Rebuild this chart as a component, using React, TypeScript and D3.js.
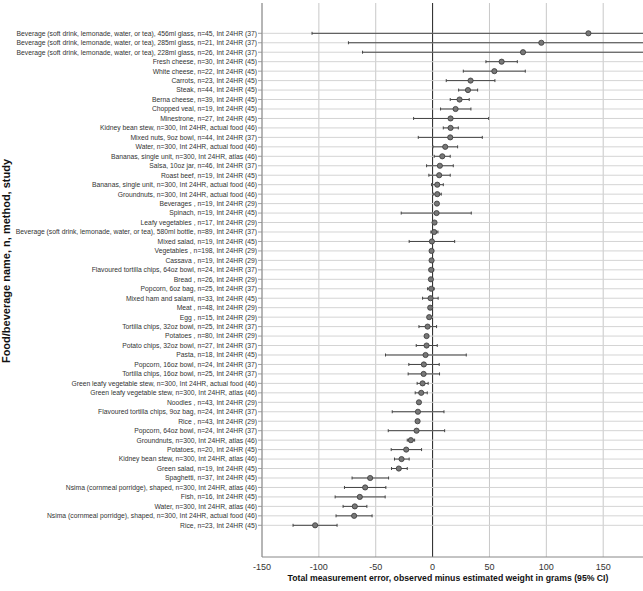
import React from 'react';
import * as d3 from 'd3';

// Row labels, top to bottom
const labels = [
  'Beverage (soft drink, lemonade, water, or tea), 456ml glass, n=45, Int 24HR (37)',
  'Beverage (soft drink, lemonade, water, or tea), 285ml glass, n=21, Int 24HR (37)',
  'Beverage (soft drink, lemonade, water, or tea), 228ml glass, n=26, Int 24HR (37)',
  'Fresh cheese, n=30, Int 24HR (45)',
  'White cheese, n=22, Int 24HR (45)',
  'Carrots, n=23, Int 24HR (45)',
  'Steak, n=44, Int 24HR (45)',
  'Berna cheese, n=39, Int 24HR (45)',
  'Chopped veal, n=19, Int 24HR (45)',
  'Minestrone, n=27, Int 24HR (45)',
  'Kidney bean stew, n=300, Int 24HR, actual food (46)',
  'Mixed nuts, 9oz bowl, n=44, Int 24HR (37)',
  'Water, n=300, Int 24HR, actual food (46)',
  'Bananas, single unit, n=300, Int 24HR, atlas (46)',
  'Salsa, 10oz jar, n=46, Int 24HR (37)',
  'Roast beef, n=19, Int 24HR (45)',
  'Bananas, single unit, n=300, Int 24HR, actual food (46)',
  'Groundnuts, n=300, Int 24HR, actual food (46)',
  'Beverages , n=19, Int 24HR (29)',
  'Spinach, n=19, Int 24HR (45)',
  'Leafy vegetables , n=17, Int 24HR (29)',
  'Beverage (soft drink, lemonade, water, or tea), 580ml bottle, n=89, Int 24HR (37)',
  'Mixed salad, n=19, Int 24HR (45)',
  'Vegetables , n=198, Int 24HR (29)',
  'Cassava , n=19, Int 24HR (29)',
  'Flavoured tortilla chips, 64oz bowl, n=24, Int 24HR (37)',
  'Bread , n=26, Int 24HR (29)',
  'Popcorn, 6oz bag, n=25, Int 24HR (37)',
  'Mixed ham and salami, n=33, Int 24HR (45)',
  'Meat , n=48, Int 24HR (29)',
  'Egg , n=15, Int 24HR (29)',
  'Tortilla chips, 32oz bowl, n=25, Int 24HR (37)',
  'Potatoes , n=80, Int 24HR (29)',
  'Potato chips, 32oz bowl, n=27, Int 24HR (37)',
  'Pasta, n=18, Int 24HR (45)',
  'Popcorn, 16oz bowl, n=24, Int 24HR (37)',
  'Tortilla chips, 16oz bowl, n=25, Int 24HR (37)',
  'Green leafy vegetable stew, n=300, Int 24HR, actual food (46)',
  'Green leafy vegetable stew, n=300, Int 24HR, atlas (46)',
  'Noodles , n=43, Int 24HR (29)',
  'Flavoured tortilla chips, 9oz bag, n=24, Int 24HR (37)',
  'Rice , n=43, Int 24HR (29)',
  'Popcorn, 64oz bowl, n=24, Int 24HR (37)',
  'Groundnuts, n=300, Int 24HR, atlas (46)',
  'Potatoes, n=20, Int 24HR (45)',
  'Kidney bean stew, n=300, Int 24HR, atlas (46)',
  'Green salad, n=19, Int 24HR (45)',
  'Spaghetti, n=37, Int 24HR (45)',
  'Nsima (cornmeal porridge), shaped, n=300, Int 24HR, atlas (46)',
  'Fish, n=16, Int 24HR (45)',
  'Water, n=300, Int 24HR, atlas (46)',
  'Nsima (cornmeal porridge), shaped, n=300, Int 24HR, actual food (46)',
  'Rice, n=23, Int 24HR (45)',
];

// mean error and 95% CI, grams
const estimates = [
  137, 95.6, 79.5, 60.7, 54.3, 33.4, 31.1, 23.7, 20.2, 15.8,
  15.8, 15.5, 11.1, 8.5, 6.4, 5.8, 4.1, 4.1, 3.8, 3.5,
  1.7, 1.4, -0.6, -0.9, -0.9, -1.2, -1.5, -1.2, -1.8, -2.1,
  -3, -4.4, -5.3, -5.3, -6.2, -7.7, -7.9, -8.8, -10, -12,
  -12.9, -13.2, -14.1, -19.1, -23.2, -27.3, -29.7, -54.9, -59.3, -64,
  -68.4, -69, -103.3,
];
const lower = [
  -106, -74, -61.6, 46.9, 27, 12, 22.9, 15.5, 7, -16.7,
  9.4, -12.6, 0.3, 1.4, -5.3, -3.3, -0.9, 0.6, 2.8, -27.6,
  0.7, -1.5, -20.6, -1.8, -1.9, -3, -2.4, -4.4, -8.8, -3,
  -3.9, -12, -6.2, -14.4, -41.4, -20.9, -21.5, -13.6, -15.3, -12.9,
  -35.5, -14.1, -39, -22.3, -36.4, -33.5, -36.1, -70.8, -77.5, -85.7,
  -78.7, -84.9, -122.7,
];
const upper = [
  380, 265, 221, 74.5, 81.5, 54.8, 39.6, 32.2, 33.7, 49.3,
  22.6, 43.7, 22, 15.5, 18.2, 15.5, 9.4, 7.6, 4.8, 34,
  2.7, 4.7, 19.4, 0, 0.1, 1, -0.6, 1.4, 4.9, -1.2,
  -2.1, 3.5, -4.4, 4.1, 29.6, 5.8, 6.1, -3.9, -4.7, -11.1,
  10, -12.3, 10.6, -15.8, -9.7, -20.6, -22.3, -38.7, -41.1, -41.7,
  -57.8, -53.2, -84,
];

const xTicks = [-150, -100, -50, 0, 50, 100, 150];

const W = 643;
const H = 591;
const left = 262;
const right = 643;
const top = 3;
const bottom = 557;
const font = 'Liberation Sans, Arial, Helvetica, sans-serif';

export default function App() {
  const x = d3.scaleLinear().domain([-150, 185]).range([left, right]);
  const y = d3
    .scalePoint<number>()
    .domain(d3.range(labels.length))
    .range([33.3, 525.3]);

  const rows = labels.map((label, i) => ({
    label,
    est: estimates[i],
    lo: lower[i],
    hi: upper[i],
    y: y(i) as number,
  }));

  return (
    <svg
      width={W}
      height={H}
      style={{ position: 'absolute', left: 0, top: 0, background: '#fff' }}
      fontFamily={font}
    >
      <defs>
        <clipPath id="plot">
          <rect x={left} y={top} width={right - left} height={bottom - top} />
        </clipPath>
      </defs>

      {/* vertical grid */}
      {xTicks.map(t => (
        <line
          key={'vg' + t}
          x1={x(t)}
          x2={x(t)}
          y1={top}
          y2={bottom}
          stroke={t === 0 ? '#222' : '#c8c8c8'}
          strokeWidth={1}
        />
      ))}

      {/* horizontal grid + y ticks */}
      {rows.map((r, i) => (
        <g key={'hg' + i}>
          <line x1={left} x2={right} y1={r.y} y2={r.y} stroke="#d4d4d4" strokeWidth={1} />
          <line x1={left - 4} x2={left} y1={r.y} y2={r.y} stroke="#888" strokeWidth={0.8} />
          <text
            x={left - 5}
            y={r.y}
            dy="0.35em"
            textAnchor="end"
            fontSize={6.77}
            fill="#333"
          >
            {r.label}
          </text>
        </g>
      ))}

      {/* axes */}
      <line x1={left} x2={left} y1={top} y2={bottom} stroke="#888" strokeWidth={1} />
      <line x1={left} x2={right} y1={bottom} y2={bottom} stroke="#888" strokeWidth={1} />
      {xTicks.map(t => (
        <text
          key={'xt' + t}
          x={x(t)}
          y={570}
          textAnchor="middle"
          fontSize={9}
          fill="#333"
        >
          {t}
        </text>
      ))}

      {/* CIs and estimates */}
      <g clipPath="url(#plot)">
        {rows.map((r, i) => (
          <g key={'ci' + i}>
            <line x1={x(r.lo)} x2={x(r.hi)} y1={r.y} y2={r.y} stroke="#444" strokeWidth={1} />
            <line x1={x(r.lo)} x2={x(r.lo)} y1={r.y - 1.5} y2={r.y + 1.5} stroke="#444" strokeWidth={1} />
            <line x1={x(r.hi)} x2={x(r.hi)} y1={r.y - 1.5} y2={r.y + 1.5} stroke="#444" strokeWidth={1} />
            <circle cx={x(r.est)} cy={r.y} r={2.6} fill="#777" stroke="#3a3a3a" strokeWidth={0.8} />
          </g>
        ))}
      </g>

      {/* titles */}
      <text
        x={448}
        y={580.5}
        textAnchor="middle"
        fontSize={8.7}
        fontWeight="bold"
        fill="#111"
      >
        Total measurement error, observed minus estimated weight in grams  (95% CI)
      </text>
      <text
        transform={`translate(10, 261) rotate(-90)`}
        textAnchor="middle"
        fontSize={11}
        fontWeight="bold"
        fill="#111"
      >
        Food/beverage name, n, method, study
      </text>
    </svg>
  );
}
